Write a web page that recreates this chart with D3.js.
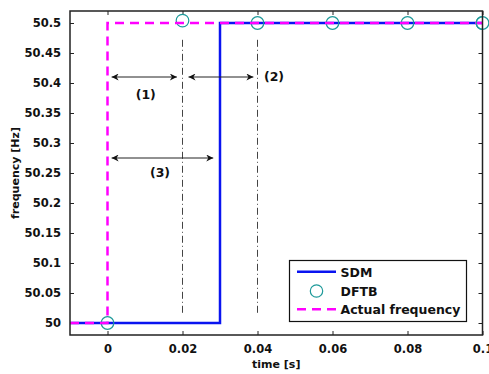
<!DOCTYPE html>
<html><head><meta charset="utf-8">
<script src="https://cdn.jsdelivr.net/npm/d3@7"></script>
<style>
html,body{margin:0;padding:0;background:#fff;}
svg{display:block;}
text{font-family:"DejaVu Sans",sans-serif;font-weight:bold;fill:#111;}
</style></head>
<body><svg id="c" width="489" height="374"></svg>
<script>
// ---- data ----
const sdmTime  = [-0.01, 0.03, 0.03, 0.1];
const sdmFreq  = [50, 50, 50.5, 50.5];
const actTime  = [-0.01, 0, 0, 0.1];
const actFreq  = [50, 50, 50.5, 50.5];
const dftbTime = [0, 0.02, 0.04, 0.06, 0.08, 0.1];
const dftbFreq = [50, 50.504, 50.5, 50.5, 50.5, 50.5];
const xTicks = [0, 0.02, 0.04, 0.06, 0.08, 0.1];
const xTickLabels = ["0", "0.02", "0.04", "0.06", "0.08", "0.1"];
const yTicks = [50, 50.05, 50.1, 50.15, 50.2, 50.25, 50.3, 50.35, 50.4, 50.45, 50.5];
const yTickLabels = ["50", "50.05", "50.1", "50.15", "50.2", "50.25", "50.3", "50.35", "50.4", "50.45", "50.5"];
const markerLinesX = [0.02, 0.04];
const markerLinesY = [50.012, 50.472];
const arrowStart = [0.0011, 0.0216, 0.0011];
const arrowEnd   = [0.0185, 0.0389, 0.0282];
const arrowFreq  = [50.41, 50.41, 50.275];
const arrowLabels = ["(1)", "(2)", "(3)"];
const labelTime = [0.0102, 0.0444, 0.014];
const labelFreq = [50.374, 50.404, 50.244];
const legendNames = ["SDM", "DFTB", "Actual frequency"];

// ---- layout ----
const svg = d3.select("#c");
const L = 70, R = 482.5, T = 11, B = 335;
const x = d3.scaleLinear().domain([-0.01, 0.1]).range([L, R]);
const y = d3.scaleLinear().domain([49.98, 50.52]).range([B, T]);

const defs = svg.append("defs");
defs.append("marker").attr("id","ah").attr("viewBox","0 0 10 10")
  .attr("refX",10).attr("refY",5).attr("markerWidth",8).attr("markerHeight",7)
  .attr("markerUnits","userSpaceOnUse").attr("orient","auto-start-reverse")
  .append("path").attr("d","M0,0 L10,5 L0,10 L3,5 Z").attr("fill","#111");
defs.append("clipPath").attr("id","clip").append("rect")
  .attr("x",L).attr("y",T).attr("width",R-L).attr("height",B-T);

const g = svg.append("g");
// frame
g.append("rect").attr("x",L).attr("y",T).attr("width",R-L).attr("height",B-T)
  .attr("fill","#fff").attr("stroke","none");

// axes with inward ticks
const xAxB = d3.axisBottom(x).tickValues(xTicks).tickSize(-4).tickPadding(10)
  .tickFormat((d,i)=>xTickLabels[i]);
const xAxT = d3.axisTop(x).tickValues(xTicks).tickSize(-4).tickFormat("");
const yAxL = d3.axisLeft(y).tickValues(yTicks).tickSize(-4).tickPadding(9)
  .tickFormat((d,i)=>yTickLabels[i]);
const yAxR = d3.axisRight(y).tickValues(yTicks).tickSize(-4).tickFormat("");
function styleAxis(sel){
  sel.select(".domain").remove();
  sel.selectAll(".tick line").attr("stroke","#222").attr("stroke-width",1);
  sel.selectAll("text").attr("font-size","11.5px").attr("font-family","DejaVu Sans, sans-serif")
    .attr("font-weight","bold").attr("fill","#111");
}
g.append("g").attr("transform",`translate(0,${B})`).call(xAxB).call(styleAxis);
g.append("g").attr("transform",`translate(0,${T})`).call(xAxT).call(styleAxis);
g.append("g").attr("transform",`translate(${L},0)`).call(yAxL).call(styleAxis);
g.append("g").attr("transform",`translate(${R},0)`).call(yAxR).call(styleAxis);

const plot = g.append("g").attr("clip-path","url(#clip)");

// dash-dot vertical guide lines
markerLinesX.forEach(t=>{
  plot.append("line").attr("x1",x(t)).attr("x2",x(t))
    .attr("y1",y(markerLinesY[1])).attr("y2",y(markerLinesY[0]))
    .attr("stroke","#444").attr("stroke-width",1).attr("stroke-dasharray","7,3,1,3");
});

const line = d3.line().x(d=>x(d[0])).y(d=>y(d[1]));
// SDM
plot.append("path").datum(sdmTime.map((t,i)=>[t,sdmFreq[i]])).attr("d",line)
  .attr("fill","none").attr("stroke","#0a14f0").attr("stroke-width",2.5);
// DFTB
plot.selectAll("circle.dftb").data(dftbTime.map((t,i)=>[t,dftbFreq[i]])).enter()
  .append("circle").attr("cx",d=>x(d[0])).attr("cy",d=>y(d[1])).attr("r",6.3)
  .attr("fill","none").attr("stroke","#1e9a9a").attr("stroke-width",1.2);
g.append("circle").attr("cx",x(0.1)).attr("cy",y(50.5)).attr("r",6.3)
  .attr("fill","none").attr("stroke","#1e9a9a").attr("stroke-width",1.2);
// actual frequency
plot.append("path").datum(actTime.map((t,i)=>[t,actFreq[i]])).attr("d",line)
  .attr("fill","none").attr("stroke","#ff00ff").attr("stroke-width",2.5)
  .attr("stroke-dasharray","9,6");

// arrows
arrowStart.forEach((s,i)=>{
  g.append("line").attr("x1",x(s)).attr("x2",x(arrowEnd[i]))
    .attr("y1",y(arrowFreq[i])).attr("y2",y(arrowFreq[i]))
    .attr("stroke","#222").attr("stroke-width",1)
    .attr("marker-start","url(#ah)").attr("marker-end","url(#ah)");
  g.append("text").attr("x",x(labelTime[i])).attr("y",y(labelFreq[i]))
    .attr("text-anchor","middle").attr("font-size","12.5px").text(arrowLabels[i]);
});

// frame border
g.append("rect").attr("x",L).attr("y",T).attr("width",R-L).attr("height",B-T)
  .attr("fill","none").attr("stroke","#222").attr("stroke-width",1.5);

// axis labels
g.append("text").attr("x",(L+R)/2).attr("y",368).attr("text-anchor","middle")
  .attr("font-size","11px").text("time [s]");
g.append("text").attr("transform",`translate(19,${(T+B)/2}) rotate(-90)`)
  .attr("text-anchor","middle").attr("font-size","11px").text("frequency [Hz]");

// legend
const lg = g.append("g");
lg.append("rect").attr("x",289.5).attr("y",260.5).attr("width",177).attr("height",61)
  .attr("fill","#fff").attr("stroke","#111").attr("stroke-width",1.2);
const rowY = [271.7, 291, 309.3];
lg.append("line").attr("x1",297).attr("x2",336).attr("y1",rowY[0]).attr("y2",rowY[0])
  .attr("stroke","#0a14f0").attr("stroke-width",2.5);
lg.append("circle").attr("cx",316.5).attr("cy",rowY[1]).attr("r",6.2)
  .attr("fill","none").attr("stroke","#1e9a9a").attr("stroke-width",1.2);
lg.append("line").attr("x1",297).attr("x2",336).attr("y1",rowY[2]).attr("y2",rowY[2])
  .attr("stroke","#ff00ff").attr("stroke-width",2.5).attr("stroke-dasharray","9,6");
legendNames.forEach((n,i)=>{
  lg.append("text").attr("x",340.5).attr("y",rowY[i]+5).attr("font-size","12.5px").text(n);
});
</script></body></html>
